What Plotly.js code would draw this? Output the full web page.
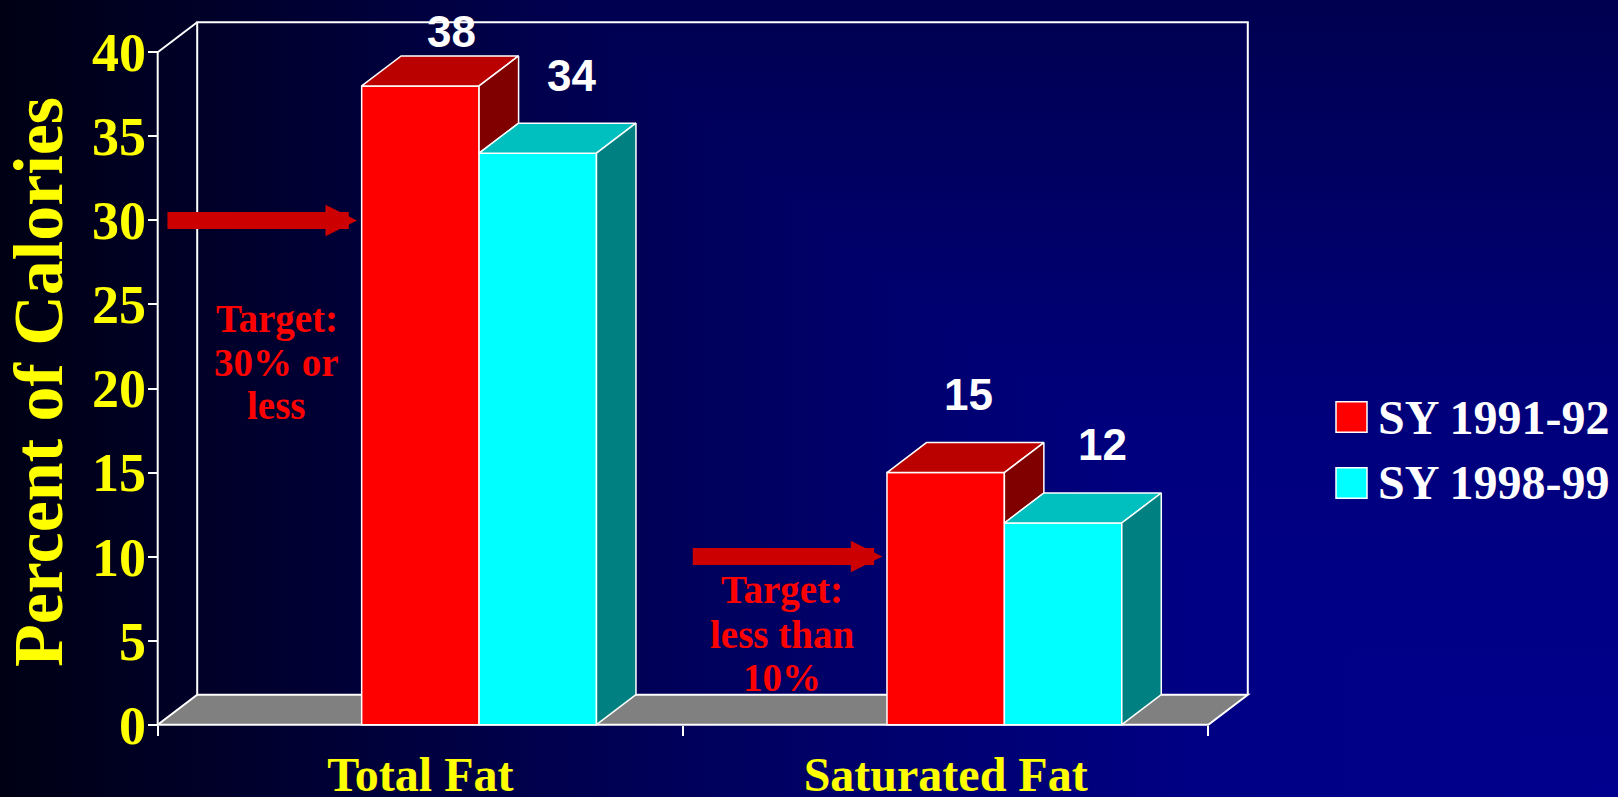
<!DOCTYPE html>
<html>
<head>
<meta charset="utf-8">
<script src="https://cdn.plot.ly/plotly-3.0.1.min.js"></script>
<style>
  html, body { margin: 0; padding: 0; width: 1618px; height: 797px; overflow: hidden; }
  body {
    background-image:
      linear-gradient(to bottom, #000050 0%, #000064 25%, #00007d 54%, #00008a 88%, #00008e 100%),
      linear-gradient(to right, #000014 0%, #000032 18.5%, #00004e 34%, #00006e 55.6%, #000084 74%, #00008e 100%);
    background-blend-mode: darken;
  }
  #chart { width: 1618px; height: 797px; }
</style>
</head>
<body>
<div id="chart"></div>
<script>
// ---------------- data ----------------
const categories = ['Total Fat', 'Saturated Fat'];
const seriesNames = ['SY 1991-92', 'SY 1998-99'];
const sy199192 = [38, 15];
const sy199899 = [34, 12];
const yTickVals = [0, 5, 10, 15, 20, 25, 30, 35, 40];
const targetValues = [30, 10];
const targetLabels = [['Target:', '30% or', 'less'], ['Target:', 'less than', '10%']];

// ---------------- layout constants (pixels) ----------------
const W = 1618, H = 797;
const FRONT_LEFT_PX = 157.7;   // x pixel of the left category boundary
const CAT_PX = 525.3;          // pixels per category
const ZERO_PX = 724.7;         // y pixel of value 0
const UNIT_PX = 16.81;         // pixels per percent
const DEPTH_X_PX = 39.5, DEPTH_Y_PX = 30;
const PLOT = { l: 152, r: 1253, t: 17, b: 747 };
const PW = PLOT.r - PLOT.l, PH = PLOT.b - PLOT.t;

const xRange = [-0.5 - (FRONT_LEFT_PX - PLOT.l) / CAT_PX, -0.5 + (PLOT.r - FRONT_LEFT_PX) / CAT_PX];
const yRange = [-(PLOT.b - ZERO_PX) / UNIT_PX, (ZERO_PX - PLOT.t) / UNIT_PX];
const dX = DEPTH_X_PX / CAT_PX, dY = DEPTH_Y_PX / UNIT_PX;
const yMax = yTickVals[yTickVals.length - 1];
const px2paperX = p => (p - PLOT.l) / PW;
const px2paperY = p => (PLOT.b - p) / PH;

const series = [
  { name: seriesNames[0], values: sy199192, front: '#FF0000', top: '#BB0000', side: '#800000', offset: -0.1117, labelDx: [31, 23] },
  { name: seriesNames[1], values: sy199899, front: '#00FFFF', top: '#00BFBF', side: '#008080', offset: 0.1118, labelDx: [34, 39] }
];
const BAR_W = 0.2235;
const catIdx = categories.map((c, i) => i);
const serif = 'Liberation Serif, Times New Roman, serif';
const sans = 'Liberation Sans, Arial, sans-serif';

const fronts = [];
const faces = [];
// front faces
series.forEach(s => {
  fronts.push({
    type: 'bar', x: catIdx, y: s.values, name: s.name,
    offset: s.offset, width: BAR_W,
    marker: { color: s.front, line: { color: '#FFFFFF', width: 1.5 } },
    hoverinfo: 'skip', showlegend: false
  });
});
// top and side faces (3-D look) computed from the values
series.forEach((s, si) => {
  const next = series[si + 1];
  s.values.forEach((v, ci) => {
    const x0 = ci + s.offset, x1 = x0 + BAR_W;
    faces.push({
      type: 'scatter', mode: 'lines', fill: 'toself', fillcolor: s.top,
      x: [x0, x1, x1 + dX, x0 + dX, x0], y: [v, v, v + dY, v + dY, v],
      line: { color: '#FFFFFF', width: 1.5 }, hoverinfo: 'skip', showlegend: false
    });
    const low = next ? Math.min(v, next.values[ci]) : 0;
    faces.push({
      type: 'scatter', mode: 'lines', fill: 'toself', fillcolor: s.side,
      x: [x1, x1, x1 + dX, x1 + dX, x1], y: [low, v, v + dY, low + dY, low],
      line: { color: '#FFFFFF', width: 1.5 }, hoverinfo: 'skip', showlegend: false
    });
  });
});

const shapes = [
  { type: 'path', layer: 'below', xref: 'x', yref: 'y',
    path: `M${-0.5},0 L${1.5},0 L${1.5 + dX},${dY} L${-0.5 + dX},${dY} Z`,
    fillcolor: '#808080', line: { color: '#FFFFFF', width: 2 } },
  { type: 'path', layer: 'below', xref: 'x', yref: 'y',
    path: `M${-0.5 + dX},${dY} L${-0.5 + dX},${yMax + dY} L${1.5 + dX},${yMax + dY} L${1.5 + dX},${dY}`,
    line: { color: '#FFFFFF', width: 2 } },
  { type: 'line', layer: 'below', xref: 'x', yref: 'y', x0: -0.5, y0: yMax, x1: -0.5 + dX, y1: yMax + dY,
    line: { color: '#FFFFFF', width: 2 } },
  { type: 'line', layer: 'below', xref: 'x', yref: 'y', x0: -0.5, y0: 0, x1: -0.5, y1: yMax,
    line: { color: '#FFFFFF', width: 2 } }
];

const annotations = [];
// value labels
series.forEach(s => {
  s.values.forEach((v, ci) => {
    const topPx = ZERO_PX - v * UNIT_PX;
    annotations.push({
      xref: 'x', yref: 'y', x: ci + s.offset + BAR_W / 2 + s.labelDx[ci] / CAT_PX, y: v,
      yshift: Math.min(78, topPx - 32), xanchor: 'center', yanchor: 'middle',
      text: String(v), showarrow: false,
      font: { family: sans, size: 44, color: '#FFFFFF', weight: 'bold' }
    });
  });
});
// target arrows
targetValues.forEach((tv, ci) => {
  annotations.push({
    xref: 'x', yref: 'y', x: ci + series[0].offset - 4.7 / CAT_PX, y: tv,
    ax: -191, ay: 0, text: '', showarrow: true,
    arrowhead: 2, arrowsize: 0.37, arrowwidth: 17, arrowcolor: '#CC0000'
  });
});
// target texts
const targetCenterPx = [276.7, 782];
const targetLinePx = [[319, 362, 405], [590, 634, 677]];
targetLabels.forEach((lines, bi) => {
  lines.forEach((t, li) => {
    annotations.push({
      xref: 'paper', yref: 'paper', x: px2paperX(targetCenterPx[bi]), y: px2paperY(targetLinePx[bi][li]),
      xanchor: 'center', yanchor: 'middle', text: t, showarrow: false,
      font: { family: serif, size: 39, color: '#FF0000', weight: 'bold' }
    });
  });
});
// legend
const legendRowPx = [417, 483];
series.forEach((s, i) => {
  const cy = legendRowPx[i];
  shapes.push({
    type: 'rect', xref: 'paper', yref: 'paper',
    x0: px2paperX(1336), x1: px2paperX(1367), y0: px2paperY(cy - 15.3), y1: px2paperY(cy + 15.3),
    fillcolor: s.front, line: { color: '#FFFFFF', width: 1.5 }
  });
  annotations.push({
    xref: 'paper', yref: 'paper', x: px2paperX(1376), y: px2paperY(cy),
    xanchor: 'left', yanchor: 'middle', text: s.name, showarrow: false,
    font: { family: serif, size: 48, color: '#FFFFFF', weight: 'bold' }
  });
});

const layout = {
  width: W, height: H,
  margin: { l: PLOT.l, r: W - PLOT.r, t: PLOT.t, b: H - PLOT.b, pad: 0 },
  paper_bgcolor: 'rgba(0,0,0,0)', plot_bgcolor: 'rgba(0,0,0,0)',
  barmode: 'overlay', showlegend: false,
  xaxis: {
    type: 'linear', range: xRange, anchor: 'free', position: (PLOT.b - ZERO_PX) / PH,
    showgrid: false, zeroline: false, showline: false,
    tickmode: 'array', tickvals: catIdx, ticktext: categories, ticks: '',
    ticklabelstandoff: 17,
    tickfont: { family: serif, size: 48, color: '#FFFF00', weight: 'bold' },
    minor: { tickmode: 'array', tickvals: [-0.5, 0.5, 1.5], ticks: 'outside', ticklen: 10, tickwidth: 2, tickcolor: '#FFFFFF', showgrid: false },
    fixedrange: true
  },
  yaxis: {
    range: yRange, anchor: 'free', position: (FRONT_LEFT_PX - PLOT.l) / PW,
    showgrid: false, zeroline: false, showline: false,
    tickmode: 'array', tickvals: yTickVals, ticks: 'outside', ticklen: 10, tickwidth: 2, tickcolor: '#FFFFFF',
    ticklabelstandoff: -9,
    tickfont: { family: serif, size: 54, color: '#FFFF00', weight: 'bold' },
    title: { text: 'Percent of Calories', standoff: 12, font: { family: serif, size: 70, color: '#FFFF00', weight: 'bold' } },
    fixedrange: true
  },
  shapes: shapes,
  annotations: annotations
};

Plotly.newPlot('chart', fronts.concat(faces), layout, { displayModeBar: false, staticPlot: true });
</script>
</body>
</html>
